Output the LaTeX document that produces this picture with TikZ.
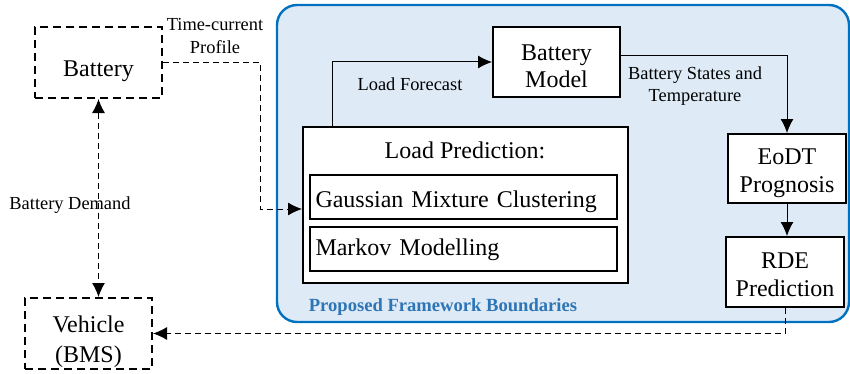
\documentclass[tikz,border=0pt]{standalone}
\usepackage{fontspec}
\setmainfont{Liberation Serif}
\usetikzlibrary{arrows.meta}
\definecolor{frameblue}{RGB}{0,112,192}
\definecolor{framefill}{RGB}{222,235,247}
\definecolor{labelblue}{RGB}{46,117,182}
\tikzset{
  bigtext/.style={font=\fontsize{12}{13.8}\selectfont},
  smalltext/.style={font=\fontsize{9.2}{11}\selectfont, align=center},
  solidbox/.style={draw, line width=1pt, fill=white, bigtext, align=center, inner sep=0pt, text depth=0pt},
  dashbox/.style={draw, line width=1pt, dash pattern=on 4pt off 2.5pt, bigtext, align=center, inner sep=0pt, text depth=0pt},
  conn/.style={line width=0.5pt, -{Latex[length=7pt,width=6.5pt]}},
  dconn/.style={conn, dash pattern=on 3pt off 2pt}
}
\begin{document}
\begin{tikzpicture}[x=0.5pt, y=-0.5pt]
    \useasboundingbox (0,0) rectangle (850,374);

    % Framework boundary
    \draw[frameblue, fill=framefill, line width=1.2pt, rounded corners=10pt] (277,5) rectangle (849,322);
    \node[font=\fontsize{9.3}{11}\selectfont\bfseries, text=labelblue] (fwlabel) at (443,307) {Proposed Framework Boundaries};

    % Blocks (text height moves the text down inside its box)
    \node[dashbox, minimum width=63.5pt, minimum height=35.5pt, text height=13.5pt] (bat) at (98.5,62.5) {Battery};
    \node[dashbox, minimum width=63.5pt, minimum height=35.5pt, text height=28.5pt] (veh) at (88.5,333.5) {Vehicle\\[1.2pt](BMS)};
    \node[solidbox, minimum width=63.5pt, minimum height=35pt, text height=26pt] (bm) at (556.5,62) {Battery\\Model};
    \node[solidbox, minimum width=162.5pt, minimum height=78pt] (lp) at (465.5,205) {};
    \node[bigtext, anchor=base] (lptitle) at (465,158) {Load Prediction:};
    \node[solidbox, minimum width=153.5pt, minimum height=22pt, text width=148pt, align=left, text height=10.5pt] (gmc) at (463.5,196.5) {Gaussian Mixture Clustering};
    \node[solidbox, minimum width=153.5pt, minimum height=22pt, text width=148pt, align=left, text height=6.5pt] (mm) at (463.5,249) {Markov Modelling};
    \node[solidbox, minimum width=59pt, minimum height=34.5pt, text height=23.5pt] (eo) at (787,168.5) {EoDT\\Prognosis};
    \node[solidbox, minimum width=59pt, minimum height=35pt, text height=24pt] (rde) at (785,272) {RDE\\Prediction};

    % Connectors
    \coordinate (tcbend) at (260,209);
    \draw[dconn] (bat.east) -| (tcbend) -- (tcbend -| lp.west);
    \node[smalltext] (tclabel) at (215,36) {Time-current\\Profile};

    \draw[dconn, {Latex[length=7pt,width=6.5pt]}-{Latex[length=7pt,width=6.5pt]}] (bat.south) -- (bat.south |- veh.north);
    \node[smalltext] (bdlabel) at (70,205) {Battery Demand};

    \coordinate (lfx) at (332,0);
    \draw[conn] (lp.north -| lfx) |- (bm.west);
    \node[smalltext] (lflabel) at (410,84) {Load Forecast};

    \draw[conn] ([yshift=3pt]bm.east) -| (eo.north);
    \node[smalltext] (bslabel) at (695,86) {Battery States and\\Temperature};

    \draw[conn] (eo.south) -- (eo.south |- rde.north);
    \draw[dconn] (rde.south) |- (veh.east);
\end{tikzpicture}
\end{document}
